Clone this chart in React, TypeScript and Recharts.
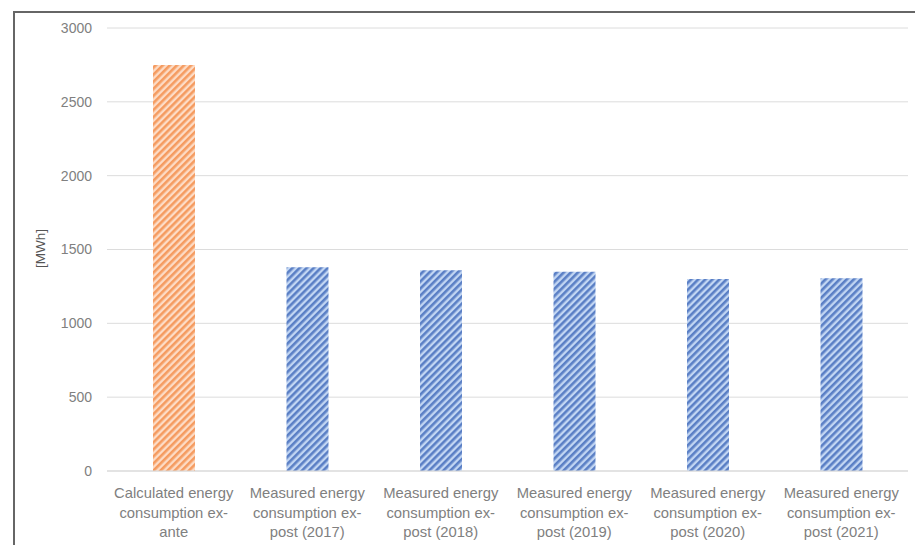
import React from "react";
import { BarChart, Bar, XAxis, YAxis, CartesianGrid, Cell } from "recharts";

// Annual energy consumption: one ex-ante estimate and five measured years
const categories = [
  "Calculated energy consumption ex-ante",
  "Measured energy consumption ex-post (2017)",
  "Measured energy consumption ex-post (2018)",
  "Measured energy consumption ex-post (2019)",
  "Measured energy consumption ex-post (2020)",
  "Measured energy consumption ex-post (2021)",
];
const consumption = [2750, 1380, 1360, 1350, 1300, 1305];

// Category labels as they wrap under each bar
const categoryLines = [
  ["Calculated energy", "consumption ex-", "ante"],
  ["Measured energy", "consumption ex-", "post (2017)"],
  ["Measured energy", "consumption ex-", "post (2018)"],
  ["Measured energy", "consumption ex-", "post (2019)"],
  ["Measured energy", "consumption ex-", "post (2020)"],
  ["Measured energy", "consumption ex-", "post (2021)"],
];
const yTicks = [0, 500, 1000, 1500, 2000, 2500, 3000];
const yUnit = "[MWh]";

const data = categories.map((name, i) => ({ name, value: consumption[i] }));

const FONT = "'Liberation Sans', Arial, sans-serif";

const CategoryTick = (props: any) => {
  const { x, y, payload } = props;
  const idx = categories.indexOf(payload.value);
  const lines = idx >= 0 ? categoryLines[idx] : [String(payload.value)];
  return (
    <text x={x} y={y} textAnchor="middle" fill="#808080" fontSize={14.8} fontFamily={FONT}>
      {lines.map((line: string, i: number) => (
        <tspan key={i} x={x} dy={i === 0 ? 27 : 19.5}>
          {line}
        </tspan>
      ))}
    </text>
  );
};

const UnitLabel = (props: any) => {
  const vb = props.viewBox || { x: 0, y: 0, width: 0, height: 0 };
  const cx = vb.x + 40;
  const cy = vb.y + vb.height / 2 - 1;
  return (
    <text
      x={cx}
      y={cy}
      transform={`rotate(-90 ${cx} ${cy})`}
      textAnchor="middle"
      dominantBaseline="central"
      fill="#555"
      fontSize={13.5}
      fontFamily={FONT}
    >
      {yUnit}
    </text>
  );
};

export default function App() {
  return (
    <div style={{ position: "absolute", left: 0, top: 0, width: 915, height: 545, background: "#fff" }}>
      <div
        style={{
          position: "absolute",
          left: 13,
          top: 11,
          right: 0,
          bottom: 0,
          borderTop: "2px solid #666",
          borderLeft: "2px solid #666",
        }}
      />
      <div style={{ position: "absolute", left: 0, top: 0 }}>
        <BarChart width={915} height={545} data={data} margin={{ top: 28, right: 7, bottom: 0, left: 0 }}>
          <defs>
            <pattern id="hatchOrange" width="5" height="5" patternUnits="userSpaceOnUse" patternTransform="rotate(45)">
              <rect width="5" height="5" fill="#fddcc6" />
              <rect width="2.6" height="5" fill="#f59b60" />
            </pattern>
            <pattern id="hatchBlue" width="5" height="5" patternUnits="userSpaceOnUse" patternTransform="rotate(45)">
              <rect width="5" height="5" fill="#c2d6f3" />
              <rect width="2.6" height="5" fill="#5a7fc5" />
            </pattern>
          </defs>
          <CartesianGrid vertical={false} stroke="#dcdcdc" />
          <XAxis
            dataKey="name"
            axisLine={{ stroke: "#d9d9d9" }}
            tickLine={false}
            tickSize={0}
            tickMargin={0}
            height={74}
            interval={0}
            tick={<CategoryTick />}
          />
          <YAxis
            domain={[0, 3000]}
            ticks={yTicks}
            axisLine={false}
            tickLine={false}
            tickSize={0}
            tickMargin={15}
            width={107}
            tick={{ fill: "#808080", fontSize: 14, fontFamily: FONT }}
            label={{ content: <UnitLabel /> } as any}
          />
          <Bar dataKey="value" barSize={42} isAnimationActive={false}>
            {data.map((d, i) => (
              <Cell key={i} fill={d.name.startsWith("Calculated") ? "url(#hatchOrange)" : "url(#hatchBlue)"} />
            ))}
          </Bar>
        </BarChart>
      </div>
    </div>
  );
}
